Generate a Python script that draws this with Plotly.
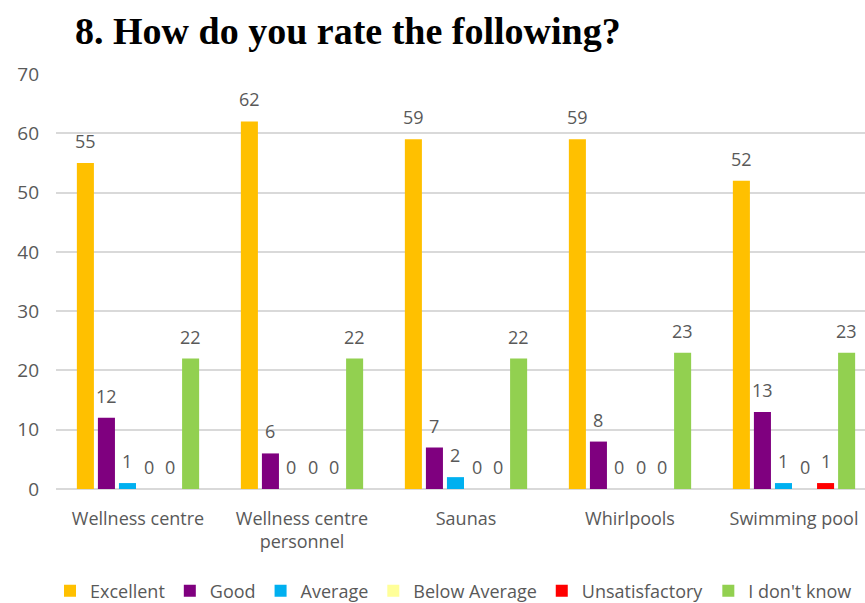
import plotly.graph_objects as go

categories = ["Wellness centre", "Wellness centre<br>personnel", "Saunas", "Whirlpools", "Swimming pool"]
series_names = ["Excellent", "Good", "Average", "Below Average", "Unsatisfactory", "I don't know"]
excellent = [55, 62, 59, 59, 52]
good = [12, 6, 7, 8, 13]
average = [1, 0, 2, 0, 1]
below_average = [0, 0, 0, 0, 0]
unsatisfactory = [0, 0, 0, 0, 1]
dont_know = [22, 22, 22, 23, 23]
colors = ["#FFC000", "#7F007F", "#00B0F0", "#FFFF99", "#FF0000", "#92D050"]
y_ticks = [0, 10, 20, 30, 40, 50, 60, 70]

all_series = [excellent, good, average, below_average, unsatisfactory, dont_know]

BARGAP = 0.23
GROUPGAP = 0.19
FONT = "Open Sans"
GRAY = "#595959"

x_idx = list(range(len(categories)))
fig = go.Figure()
for name, vals, col in zip(series_names, all_series, colors):
    fig.add_trace(go.Bar(name=name, x=x_idx, y=vals, marker=dict(color=col, line=dict(width=0))))

n = len(all_series)
slot = (1 - BARGAP) / n
annotations = []
for j, vals in enumerate(all_series):
    off = -(1 - BARGAP) / 2 + (j + 0.5) * slot
    for i, v in enumerate(vals):
        annotations.append(dict(x=i + off, y=v, xref="x", yref="y", text=str(v), showarrow=False,
                                yanchor="middle", yshift=22,
                                font=dict(family=FONT, size=18, color=GRAY)))

fig.update_layout(
    width=865, height=603,
    margin=dict(l=56, r=0, t=74, b=114, autoexpand=False),
    paper_bgcolor="white", plot_bgcolor="white",
    barmode="group", bargap=BARGAP, bargroupgap=GROUPGAP,
    title=dict(text="<b>8. How do you rate the following?</b>", xref="container", yref="container",
               x=75 / 865, xanchor="left", y=1 - 31 / 603, yanchor="middle",
               font=dict(family="Liberation Serif", size=38, color="black")),
    font=dict(family=FONT, color=GRAY),
    legend=dict(orientation="h", xref="container", x=50 / 865, xanchor="left",
                yref="container", y=1 - 591 / 603, yanchor="middle",
                font=dict(family=FONT, size=18, color=GRAY), itemwidth=30, traceorder="normal"),
    annotations=annotations,
    showlegend=True,
)
fig.update_xaxes(range=[-0.5, -0.5 + 809 / 164], tickvals=x_idx, ticktext=categories,
                 showgrid=False, zeroline=False, showline=False, ticks="",
                 tickfont=dict(family=FONT, size=18, color=GRAY), ticklabelstandoff=17)
fig.update_yaxes(range=[0, 70], tickvals=y_ticks, showgrid=True, gridcolor="#D9D9D9", gridwidth=1.5,
                 zeroline=True, zerolinecolor="#D9D9D9", zerolinewidth=1.5, showline=False, ticks="",
                 tickfont=dict(family=FONT, size=19, color=GRAY), ticklabelstandoff=16)

fig.write_html("out.html")
